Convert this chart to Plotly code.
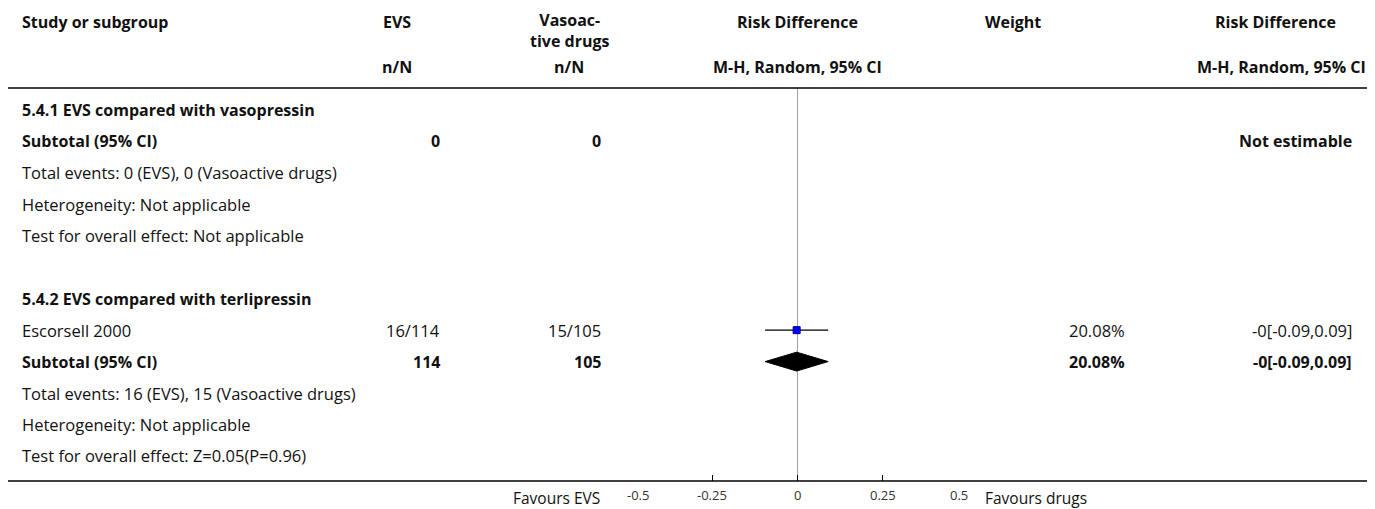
import plotly.graph_objects as go

# ---------------- data ----------------
row_labels = [
    "5.4.1 EVS compared with vasopressin",
    "Subtotal (95% CI)",
    "Total events: 0 (EVS), 0 (Vasoactive drugs)",
    "Heterogeneity: Not applicable",
    "Test for overall effect: Not applicable",
    "",
    "5.4.2 EVS compared with terlipressin",
    "Escorsell 2000",
    "Subtotal (95% CI)",
    "Total events: 16 (EVS), 15 (Vasoactive drugs)",
    "Heterogeneity: Not applicable",
    "Test for overall effect: Z=0.05(P=0.96)",
]
row_bold = [True, True, False, False, False, False, True, False, True, False, False, False]
evs_col = ["", "0", "", "", "", "", "", "16/114", "114", "", "", ""]
drug_col = ["", "0", "", "", "", "", "", "15/105", "105", "", "", ""]
weight_col = ["", "", "", "", "", "", "", "20.08%", "20.08%", "", "", ""]
rd_col = ["", "Not estimable", "", "", "", "", "", "-0[-0.09,0.09]", "-0[-0.09,0.09]", "", "", ""]

# study-level estimates (row index, estimate, lower, upper)
study_rows = [7]
study_est = [-0.0025]
study_lo = [-0.095]
study_hi = [0.090]

# pooled estimates
pool_rows = [8]
pool_est = [-0.0025]
pool_lo = [-0.095]
pool_hi = [0.090]

tick_vals = [-0.5, -0.25, 0, 0.25, 0.5]
tick_text = ["-0.5", "-0.25", "0", "0.25", "0.5"]

# ---------------- layout helpers ----------------
OFF = 8                       # page body margin of the html page
PAGE_W, PAGE_H = 1375, 509
W, H = PAGE_W - OFF, PAGE_H - OFF
FONT = "Open Sans, sans-serif"
TXT = "#111111"
ROW0_PX, STEP_PX = 110, 31.45


def px2row(p):
    return (p - ROW0_PX) / STEP_PX


def px(x):
    return (x - OFF) / W


fig = go.Figure()

# CI lines and study squares
for r, e, lo, hi in zip(study_rows, study_est, study_lo, study_hi):
    fig.add_trace(go.Scatter(x=[lo, hi], y=[r, r], mode="lines",
                             line=dict(color="black", width=1.3),
                             hoverinfo="skip", showlegend=False))
    fig.add_trace(go.Scatter(x=[e], y=[r], mode="markers",
                             marker=dict(symbol="square", size=7, color="#0000ff",
                                         line=dict(color="#00008b", width=1)),
                             showlegend=False))

# pooled diamonds
half_h = 0.3
for r, e, lo, hi in zip(pool_rows, pool_est, pool_lo, pool_hi):
    fig.add_trace(go.Scatter(x=[lo, e, hi, e, lo], y=[r, r - half_h, r, r + half_h, r],
                             mode="lines", fill="toself", fillcolor="black",
                             line=dict(color="black", width=1),
                             hoverinfo="skip", showlegend=False))

# zero line
fig.add_shape(type="line", xref="x", yref="y", x0=0, x1=0,
              y0=px2row(88), y1=px2row(481), line=dict(color="#a0a0a0", width=1),
              layer="below")
# header rule and bottom rule
fig.add_shape(type="line", xref="paper", yref="y", x0=px(5), x1=px(1370),
              y0=px2row(88), y1=px2row(88), line=dict(color="black", width=1.5))
fig.add_shape(type="line", xref="paper", yref="y", x0=px(5), x1=px(1370),
              y0=px2row(481), y1=px2row(481), line=dict(color="black", width=1.5))


def ann(text, x, ypx=None, row=None, anchor="left", bold=False, size=None, color=TXT,
        xref="paper"):
    y = row if row is not None else px2row(ypx)
    if size is None:
        size = 16 if bold else 16.5
    fig.add_annotation(text=("<b>%s</b>" % text.replace("<br>", "</b><br><b>")) if bold else text,
                       x=px(x) if xref == "paper" else x, xref=xref, y=y, yref="y",
                       xanchor=anchor, yanchor="middle", showarrow=False,
                       borderpad=0, borderwidth=0, align="center",
                       font=dict(family=FONT, size=size, color=color))


# headers
ann("Study or subgroup", 22, 22, bold=True)
ann("EVS", 397, 22, anchor="center", bold=True)
ann("Vasoac-<br>tive drugs", 569, 30, anchor="center", bold=True)
ann("Risk Difference", 797, 22, anchor="center", bold=True)
ann("Weight", 1013, 22, anchor="center", bold=True)
ann("Risk Difference", 1275, 22, anchor="center", bold=True)
ann("n/N", 397, 67, anchor="center", bold=True)
ann("n/N", 569, 67, anchor="center", bold=True)
ann("M-H, Random, 95% CI", 797, 67, anchor="center", bold=True)
ann("M-H, Random, 95% CI", 1366, 67, anchor="right", bold=True)

# rows
for i, lab in enumerate(row_labels):
    b = row_bold[i]
    if lab:
        ann(lab, 22, row=i, bold=b)
    if evs_col[i]:
        ann(evs_col[i], 440, row=i, anchor="right", bold=b)
    if drug_col[i]:
        ann(drug_col[i], 601, row=i, anchor="right", bold=b)
    if weight_col[i]:
        ann(weight_col[i], 1125, row=i, anchor="right", bold=b)
    if rd_col[i]:
        ann(rd_col[i], 1352, row=i, anchor="right", bold=b)

# tick labels (end labels kept inside the axis span)
for k, (tv, tt) in enumerate(zip(tick_vals, tick_text)):
    a = "left" if k == 0 else ("right" if k == len(tick_vals) - 1 else "center")
    ann(tt, tv, 495, anchor=a, size=13, color="#333333", xref="x")

# favours labels
ann("Favours EVS", 600, 498, anchor="right", size=15.5)
ann("Favours drugs", 985, 498, anchor="left", size=15.5)

fig.update_layout(
    width=W, height=H,
    margin=dict(l=0, r=0, t=0, b=0),
    plot_bgcolor="white", paper_bgcolor="white",
    showlegend=False,
    xaxis=dict(range=[-0.5, 0.5], domain=[px(627), px(968)],
               anchor="free", position=1 - (481 - OFF) / H,
               tickmode="array", tickvals=tick_vals, ticktext=tick_text,
               ticks="inside", ticklen=6, tickcolor="black", tickwidth=1,
               showticklabels=False,
               showline=False, showgrid=False, zeroline=False,
               fixedrange=True),
    yaxis=dict(range=[px2row(PAGE_H), px2row(OFF)], domain=[0, 1],
               visible=False, showgrid=False, zeroline=False, fixedrange=True),
)

fig.write_html("out.html")
